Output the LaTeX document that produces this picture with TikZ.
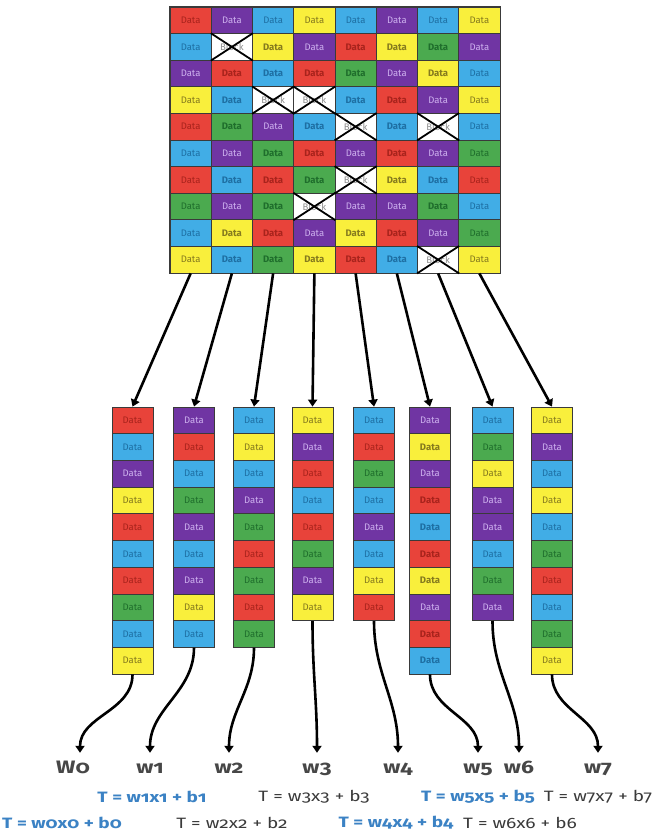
\documentclass[tikz,border=0pt]{standalone}
\usepackage{fontspec}
\usetikzlibrary{arrows.meta}
\newfontfamily\datafont{Fira Sans}
\newfontfamily\labfont[Numbers=OldStyle]{Fira Sans}

% cell fills and their darker text shades
\definecolor{cRed}{HTML}{E8433A}    \definecolor{tRed}{HTML}{A8231C}
\definecolor{cBlue}{HTML}{41ADE6}   \definecolor{tBlue}{HTML}{1E6FA3}
\definecolor{cPurple}{HTML}{7035A3} \definecolor{tPurple}{HTML}{CDB0EE}
\definecolor{cYellow}{HTML}{F9EF3C} \definecolor{tYellow}{HTML}{857A1E}
\definecolor{cGreen}{HTML}{4BAA4F}  \definecolor{tGreen}{HTML}{1F6E2C}
\definecolor{edge}{HTML}{3A3A3A}
\definecolor{eqblue}{HTML}{3B82C4}
\definecolor{eqgray}{HTML}{3A3A3A}
\definecolor{wgray}{HTML}{474747}

% wide setting for the labels under the stacks
\newcommand{\wide}[1]{\scalebox{1.27}[1]{#1}}

\tikzset{
  cell/.style={draw=edge, line width=0.8pt, minimum width=41.25pt,
    minimum height=26.6pt, inner sep=0pt,
    font=\datafont\fontsize{9.5}{10}\selectfont},
  boldcell/.style={cell, font=\datafont\bfseries\fontsize{9.5}{10}\selectfont},
  c-r/.style={cell, fill=cRed, text=tRed},
  c-R/.style={boldcell, fill=cRed, text=tRed},
  c-b/.style={cell, fill=cBlue, text=tBlue},
  c-B/.style={boldcell, fill=cBlue, text=tBlue},
  c-p/.style={cell, fill=cPurple, text=tPurple},
  c-P/.style={boldcell, fill=cPurple, text=tPurple},
  c-y/.style={cell, fill=cYellow, text=tYellow},
  c-Y/.style={boldcell, fill=cYellow, text=tYellow},
  c-g/.style={cell, fill=cGreen, text=tGreen},
  c-G/.style={boldcell, fill=cGreen, text=tGreen},
  c-x/.style={cell, fill=white, text=black!45},
  cross/.style={line width=1.8pt, black},
  flow/.style={line width=2.6pt, black, -{Triangle[width=9pt,length=7pt]}},
  wlab/.style={font=\labfont\bfseries\fontsize{18}{19}\selectfont,
    text=wgray, inner xsep=1pt, inner ysep=10pt,
    text height=10pt, text depth=0pt},
  eqb/.style={font=\labfont\bfseries\fontsize{15}{16}\selectfont, text=eqblue},
  eqg/.style={font=\labfont\fontsize{15}{16}\selectfont, text=eqgray},
}

\begin{document}
\begin{tikzpicture}[x=1pt,y=-1pt]
\useasboundingbox (0,0) rectangle (657,831);

% ---- data grid: 10 rows x 8 columns (x = blocked cell)
\foreach \row [count=\r from 0] in {
  {r,p,b,y,b,p,b,y},
  {b,x,Y,p,R,Y,G,p},
  {p,R,B,R,G,p,Y,b},
  {y,B,x,x,B,R,p,y},
  {r,G,p,B,x,B,x,b},
  {b,p,G,R,p,R,p,g},
  {r,B,R,G,x,Y,B,r},
  {g,p,G,x,p,p,G,b},
  {b,Y,R,p,Y,R,p,g},
  {y,B,G,Y,R,B,x,y}} {
  \foreach \k [count=\c from 0] in \row {
    \node[c-\k] (g-\r-\c) at ({170+41.25*(\c+0.5)},{7+26.6*(\r+0.5)})
      {\if\k x{}Block\else Data\fi};
  }
}
\draw[edge, line width=1pt] (g-0-0.north west) rectangle (g-9-7.south east);

% crosses over the blocked cells
\foreach \n in {g-1-1,g-3-2,g-3-3,g-4-4,g-4-6,g-6-4,g-7-3,g-9-6}
  \draw[cross] (\n.north west) -- (\n.south east)
               (\n.north east) -- (\n.south west);

% ---- one stack per grid column, blocked cells removed
\foreach \col [count=\c from 0] in {
  {r,b,p,y,r,b,r,g,b,y},
  {p,r,b,g,p,b,p,y,b},
  {b,y,b,p,g,r,g,r,g},
  {y,p,r,b,r,g,p,y},
  {b,r,g,b,p,b,y,r},
  {p,Y,p,R,B,R,Y,p,R,B},
  {b,g,y,p,p,b,g,p},
  {y,p,b,y,b,g,r,b,g,y}} {
  \pgfmathsetmacro\cx{{132.5,194,254,312.5,374,430,492.5,552}[\c]}
  \foreach \k [count=\r from 0] in \col {
    \node[c-\k, minimum width=41pt, minimum height=26.7pt] (s-\c-\r)
      at (\cx,{407+26.7*(\r+0.5)}) {Data};
  }
}

% ---- grid columns feed the stacks
\foreach \c in {0,...,7}
  \draw[flow] (g-9-\c.south) -- (s-\c-0.north);

% ---- weight labels
\node[wlab] (w0) at (73,768) {\wide{W0}};
\foreach \i/\x in {1/150,2/229,3/317,4/398,5/478,6/519,7/598}
  \node[wlab] (w\i) at (\x,768) {\wide{w\i}};

\draw[flow] (s-0-9.south) to[out=-90,in=90] ([xshift=7pt]w0.north);
\foreach \c/\last in {1/8,2/8,3/7,4/7,5/9,6/7,7/9}
  \draw[flow] (s-\c-\last.south) to[out=-90,in=90] (w\c.north);

% ---- per-column linear models
\node[eqb] (e1) at (152,797) {\wide{T = w1x1 + b1}};
\node[eqg] (e3) at (314,797) {\wide{T = w3x3 + b3}};
\node[eqb] (e5) at (478,797) {\wide{T = w5x5 + b5}};
\node[eqg] (e7) at (598,797) {\wide{T = w7x7 + b7}};
\node[eqb] (e0) at (62,823) {\wide{T = w0x0 + b0}};
\node[eqg] (e2) at (232,823) {\wide{T = w2x2 + b2}};
\node[eqb] (e4) at (396,823) {\wide{T = w4x4 + b4}};
\node[eqg] (e6) at (520,823) {\wide{T = w6x6 + b6}};
\end{tikzpicture}
\end{document}
